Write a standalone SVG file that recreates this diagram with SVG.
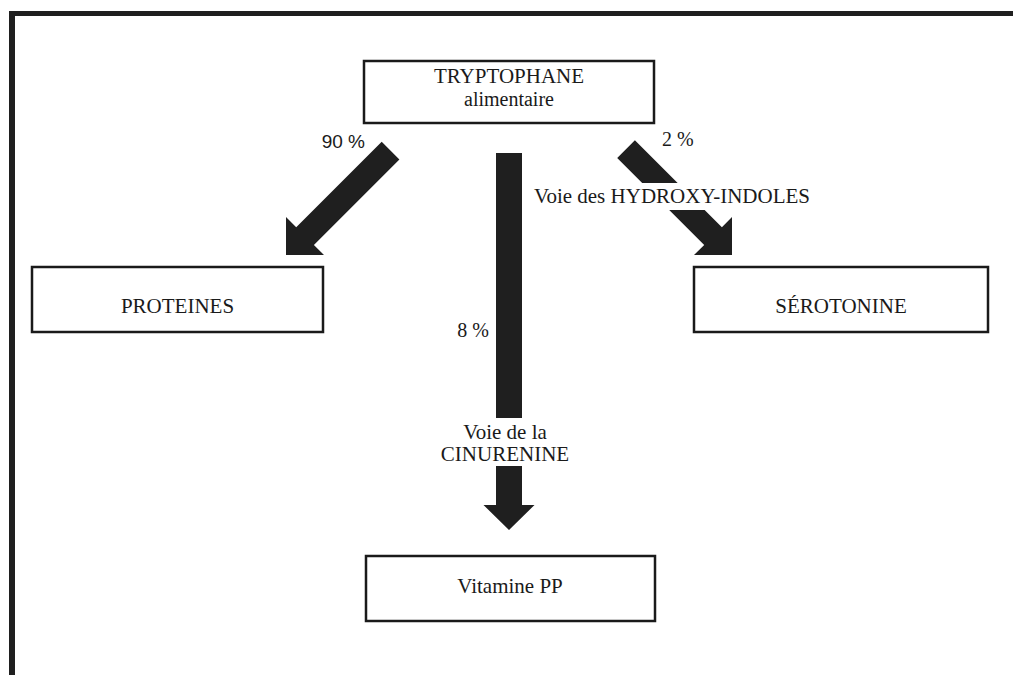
<svg xmlns="http://www.w3.org/2000/svg" width="1013" height="675" viewBox="0 0 1013 675">
  <style>
    .box { fill: #ffffff; stroke: #1a1a1a; stroke-width: 2.5; }
    .lbl { font-family: "Liberation Serif", "Times New Roman", serif; font-size: 21px; fill: #1a1a1a; text-anchor: middle; }
    .sub { font-size: 20px; }
    .pct { font-family: "Liberation Serif", "Times New Roman", serif; font-size: 20px; fill: #1a1a1a; }
    .pct-sans { font-family: "Liberation Sans", Arial, sans-serif; font-size: 19px; fill: #1a1a1a; }
    .arrow { fill: #1f1f1f; stroke: none; }
    .frame { fill: none; stroke: #1f1f1f; }
    .mask { fill: #ffffff; stroke: none; }
  </style>

  <rect x="0" y="0" width="1013" height="675" fill="#ffffff"/>

  <!-- page frame: top rule and left rule -->
  <g id="frame">
    <path class="frame" d="M9,13.5 H1013" stroke-width="5"/>
    <path class="frame" d="M12,11 V675" stroke-width="6"/>
  </g>

  <!-- wide block arrows with their labels -->
  <g id="connectors">
    <!-- to PROTEINES -->
    <polygon class="arrow" points="381.7,141.7 399.4,159.4 313.9,244.9 324,255 286,255 286,217 296.2,227.2"/>
    <text class="pct-sans" x="365" y="148" text-anchor="end">90 %</text>

    <!-- to SEROTONINE, interrupted by its label -->
    <polygon class="arrow" points="617.2,157.9 634.9,140.2 721.9,227.2 732,217 732,255 694,255 704.2,244.9"/>
    <rect class="mask" x="527" y="183" width="292" height="27"/>
    <text class="lbl" x="672" y="203">Voie des HYDROXY-INDOLES</text>
    <text class="pct" x="662" y="146">2 %</text>

    <!-- to Vitamine PP, interrupted by its label -->
    <polygon class="arrow" points="496,153 522,153 522,505 534.5,505 509,530 483.5,505 496,505"/>
    <rect class="mask" x="440" y="418" width="135" height="48"/>
    <text class="lbl" x="505" y="439">Voie de la</text>
    <text class="lbl" x="505" y="461">CINURENINE</text>
    <text class="pct" x="489" y="337" text-anchor="end">8 %</text>
  </g>

  <g id="node-tryptophane">
    <rect class="box" x="364" y="61" width="290" height="62"/>
    <text class="lbl" x="509" y="83">TRYPTOPHANE</text>
    <text class="lbl sub" x="509" y="106">alimentaire</text>
  </g>

  <g id="node-proteines">
    <rect class="box" x="32" y="267" width="291" height="65"/>
    <text class="lbl" x="177.5" y="313">PROTEINES</text>
  </g>

  <g id="node-serotonine">
    <rect class="box" x="694" y="267" width="294" height="65"/>
    <text class="lbl" x="841" y="313">SÉROTONINE</text>
  </g>

  <g id="node-vitamine-pp">
    <rect class="box" x="366" y="556" width="289" height="65"/>
    <text class="lbl" x="510" y="593">Vitamine PP</text>
  </g>
</svg>
